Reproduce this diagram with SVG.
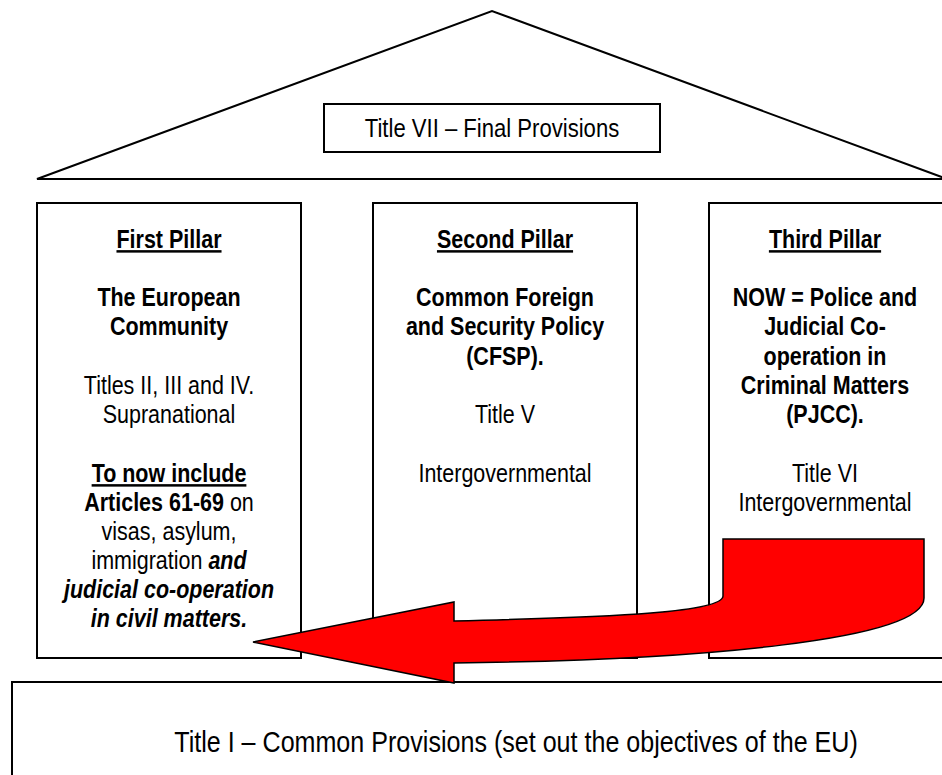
<svg xmlns="http://www.w3.org/2000/svg" width="942" height="775" viewBox="0 0 942 775">
<style>
.box{fill:#fff;stroke:#000;stroke-width:2}
.t{font-family:"Liberation Sans",Arial,sans-serif;font-size:25px;fill:#000;text-anchor:middle}
.b{font-weight:bold}
.u{text-decoration:underline}
.bi{font-weight:bold;font-style:italic}
.arrow{fill:#ff0000;stroke:#000;stroke-width:1.5;stroke-linejoin:miter}
</style>
<rect width="942" height="775" fill="#fff"/>
<g id="roof">
<polygon points="37,179 492,11 947,179" fill="#fff" stroke="#000" stroke-width="2"/>
</g>
<g id="title7">
<rect class="box" x="324" y="104" width="336" height="48"/>
<g transform="translate(492,0) scale(0.85,1)">
<text class="t" x="0" y="137" style="font-size:26px">Title VII – Final Provisions</text>
</g>
</g>
<g id="pillar1">
<rect class="box" x="37" y="203" width="264" height="455"/>
<g transform="translate(169,0) scale(0.86,1)">
<text class="t b u" x="0" y="248">First Pillar</text>
<text class="t b" x="0" y="306">The European</text>
<text class="t b" x="0" y="335">Community</text>
<text class="t" x="0" y="394">Titles II, III and IV.</text>
<text class="t" x="0" y="423">Supranational</text>
<text class="t b u" x="0" y="482">To now include</text>
<text class="t" x="0" y="511"><tspan class="b">Articles 61-69</tspan> on</text>
<text class="t" x="0" y="540">visas, asylum,</text>
<text class="t" x="0" y="569">immigration <tspan class="bi">and</tspan></text>
<text class="t bi" x="0" y="598">judicial co-operation</text>
<text class="t bi" x="0" y="627">in civil matters.</text>
</g>
</g>
<g id="pillar2">
<rect class="box" x="373" y="203" width="264" height="455"/>
<g transform="translate(505,0) scale(0.86,1)">
<text class="t b u" x="0" y="248">Second Pillar</text>
<text class="t b" x="0" y="306">Common Foreign</text>
<text class="t b" x="0" y="335">and Security Policy</text>
<text class="t b" x="0" y="365">(CFSP).</text>
<text class="t" x="0" y="423">Title V</text>
<text class="t" x="0" y="482">Intergovernmental</text>
</g>
</g>
<g id="pillar3">
<rect class="box" x="709" y="203" width="264" height="455"/>
<g transform="translate(825,0) scale(0.86,1)">
<text class="t b u" x="0" y="248">Third Pillar</text>
<text class="t b" x="0" y="306">NOW = Police and</text>
<text class="t b" x="0" y="335">Judicial Co-</text>
<text class="t b" x="0" y="365">operation in</text>
<text class="t b" x="0" y="394">Criminal Matters</text>
<text class="t b" x="0" y="423">(PJCC).</text>
<text class="t" x="0" y="482">Title VI</text>
<text class="t" x="0" y="511">Intergovernmental</text>
</g>
</g>
<g id="title1">
<rect class="box" x="12" y="682" width="960" height="120"/>
<g transform="translate(516,0) scale(0.865,1)">
<text class="t" x="0" y="752" style="font-size:29px">Title I – Common Provisions (set out the objectives of the EU)</text>
</g>
</g>
<g id="connectors">
<path class="arrow" d="M253,642 L454,602 L454,621 C620,617 723,612 723,596 L723,539 L924,539 L924,598 C924,640 700,660 454,663 L454,683 Z"/>
</g>
</svg>
